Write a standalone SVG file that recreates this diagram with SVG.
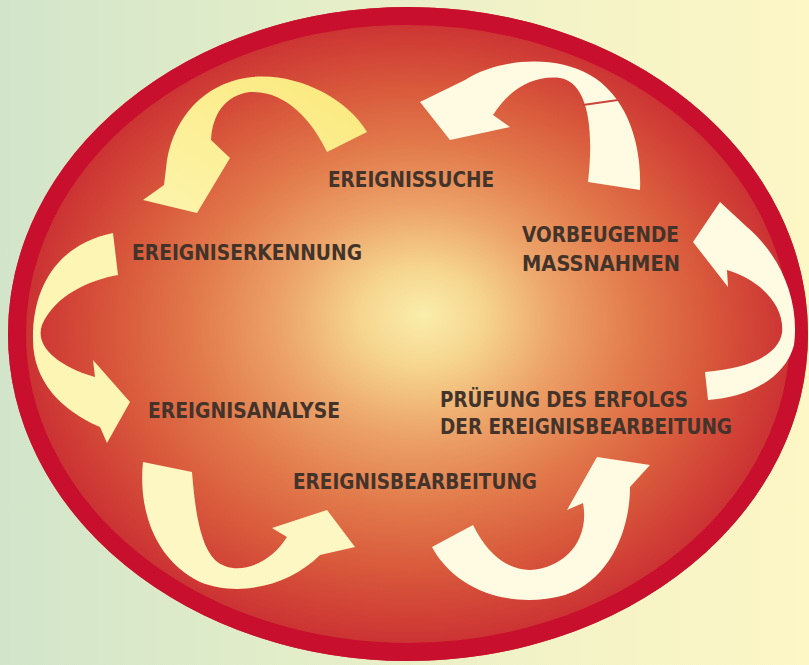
<svg xmlns="http://www.w3.org/2000/svg" width="809" height="665" viewBox="0 0 809 665">
  <defs>
    <linearGradient id="bg" x1="0" y1="0" x2="1" y2="0">
      <stop offset="0" stop-color="#d2e5ca"/>
      <stop offset="0.35" stop-color="#e2edc9"/>
      <stop offset="0.7" stop-color="#f4f3c7"/>
      <stop offset="1" stop-color="#fdf6c5"/>
    </linearGradient>
    <radialGradient id="disc" cx="0.5" cy="0.5" r="0.5" fx="0.52" fy="0.47">
      <stop offset="0" stop-color="#faedac"/>
      <stop offset="0.15" stop-color="#f6d68e"/>
      <stop offset="0.35" stop-color="#eca268"/>
      <stop offset="0.55" stop-color="#e27a4b"/>
      <stop offset="0.75" stop-color="#d8573b"/>
      <stop offset="0.9" stop-color="#cf3c35"/>
      <stop offset="1" stop-color="#c92a32"/>
    </radialGradient>
    <linearGradient id="yel" x1="1" y1="0" x2="0" y2="1">
      <stop offset="0" stop-color="#fbe97a"/>
      <stop offset="1" stop-color="#fdf4ad"/>
    </linearGradient>
  </defs>
  <style>
    .lbl { font-family: "DejaVu Sans Condensed", "Liberation Sans Narrow", "Liberation Sans", sans-serif; font-weight: bold; font-size: 21px; fill: #42332b; }
    .arrow { stroke: none; }
    .cream { fill: #fffbe3; }
    .paley { fill: #fdf5b3; }
  </style>
  <rect x="0" y="0" width="809" height="665" fill="url(#bg)"/>
  <g id="disc-shape">
    <ellipse cx="408" cy="334" rx="400" ry="327" fill="url(#disc)"/>
    <ellipse cx="408" cy="334" rx="391" ry="318" fill="none" stroke="#c8102e" stroke-width="18"/>
  </g>
  <g id="connectors">
    <path id="arrow-1" class="arrow" fill="url(#yel)" d="M 367,132 C 345,95 290,70 245,78 C 205,85 175,115 167,160 L 164,185 L 143,200 L 197,213 L 230,158 L 211,140 C 212,115 225,95 250,92 C 285,90 312,120 327,152 Z"/>
    <path id="arrow-2" class="arrow cream" d="M 640,190 C 642,140 625,95 590,75 C 555,55 500,58 465,80 L 420,102 L 450,140 L 510,127 L 493,115 C 510,88 535,75 560,78 C 585,82 595,120 588,182 Z"/>
    <line x1="583" y1="105" x2="618" y2="100" stroke="#c9453a" stroke-width="2"/>
    <path id="arrow-3" class="arrow paley" d="M 113,233 L 118,275 C 90,280 55,295 42,325 C 35,345 55,365 95,377 L 93,360 L 130,402 L 107,443 L 100,427 C 60,410 33,380 33,340 C 32,290 55,245 113,233 Z"/>
    <path id="arrow-4" class="arrow cream" d="M 708,400 C 745,398 785,380 794,345 C 800,300 780,255 747,227 L 720,202 L 693,242 L 728,287 L 727,270 C 760,280 785,305 782,333 C 778,355 750,368 705,372 Z"/>
    <path id="arrow-5" class="arrow" fill="#fdf7c4" d="M 143,462 C 138,510 155,560 200,582 C 240,598 290,585 320,555 L 355,547 L 327,510 L 272,528 L 287,537 C 270,565 235,578 215,560 C 200,545 195,510 192,472 Z"/>
    <path id="arrow-6" class="arrow cream" d="M 432,547 C 455,590 510,610 565,595 C 610,580 630,530 630,487 L 650,465 L 597,457 L 567,510 L 583,503 C 590,540 565,568 530,570 C 505,570 485,550 473,525 Z"/>
  </g>
  <g id="node-ereignissuche">
    <text class="lbl" x="328" y="187" textLength="166" lengthAdjust="spacingAndGlyphs">EREIGNISSUCHE</text>
  </g>
  <g id="node-ereigniserkennung">
    <text class="lbl" x="132" y="260" textLength="230" lengthAdjust="spacingAndGlyphs">EREIGNISERKENNUNG</text>
  </g>
  <g id="node-vorbeugende-massnahmen">
    <text class="lbl" x="522" y="242" textLength="157" lengthAdjust="spacingAndGlyphs">VORBEUGENDE</text>
    <text class="lbl" x="522" y="271" textLength="158" lengthAdjust="spacingAndGlyphs">MASSNAHMEN</text>
  </g>
  <g id="node-ereignisanalyse">
    <text class="lbl" x="148" y="418" textLength="192" lengthAdjust="spacingAndGlyphs">EREIGNISANALYSE</text>
  </g>
  <g id="node-pruefung">
    <text class="lbl" x="440" y="407" textLength="248" lengthAdjust="spacingAndGlyphs">PRÜFUNG DES ERFOLGS</text>
    <text class="lbl" x="440" y="434" textLength="292" lengthAdjust="spacingAndGlyphs">DER EREIGNISBEARBEITUNG</text>
  </g>
  <g id="node-ereignisbearbeitung">
    <text class="lbl" x="293" y="489" textLength="244" lengthAdjust="spacingAndGlyphs">EREIGNISBEARBEITUNG</text>
  </g>
</svg>
